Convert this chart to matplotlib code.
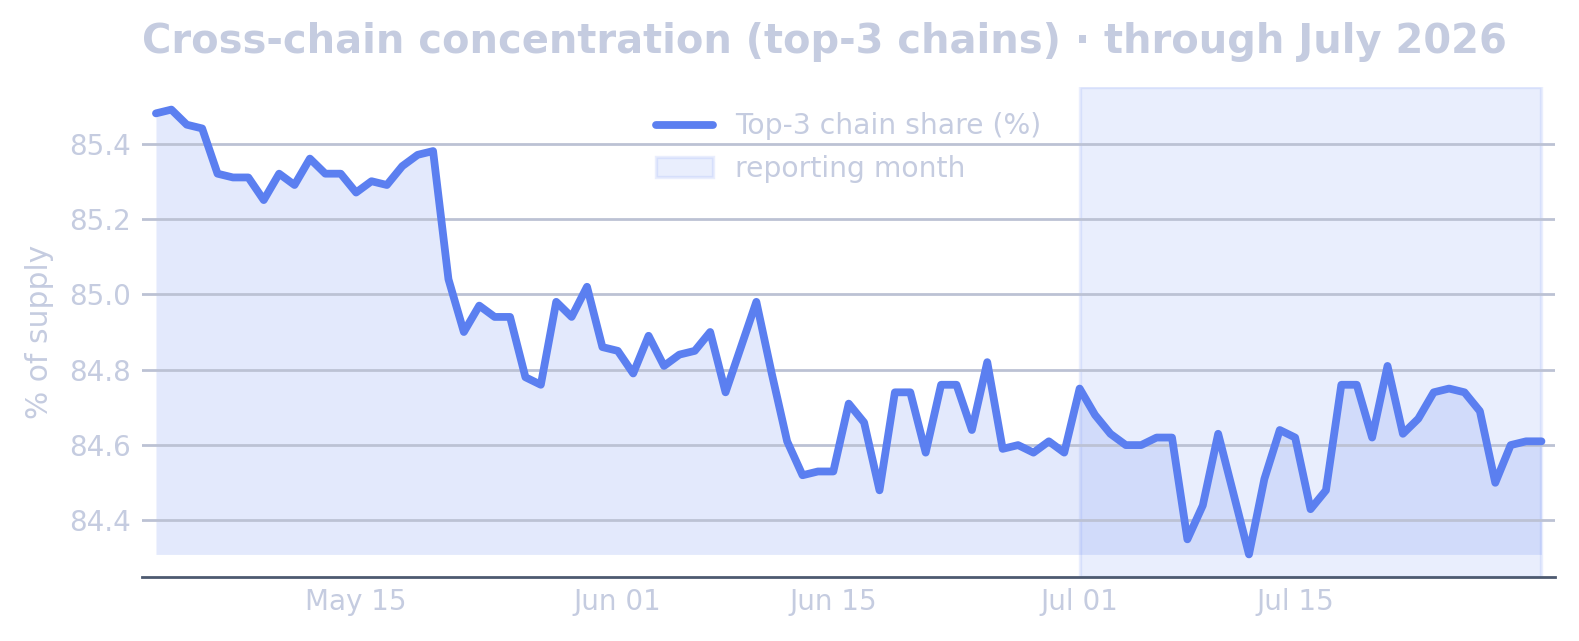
import numpy as np
import pandas as pd
import matplotlib
matplotlib.use("Agg")
import matplotlib.pyplot as plt
import matplotlib.dates as mdates
from matplotlib.lines import Line2D
from matplotlib.patches import Patch

# daily top-3 chain share, May 2 - Jul 31 2026
dates = pd.date_range("2026-05-02", "2026-07-31", freq="D")
share = [
    85.48, 85.49, 85.45, 85.44, 85.32, 85.31, 85.31, 85.25, 85.32, 85.29,
    85.36, 85.32, 85.32, 85.27, 85.30, 85.29, 85.34, 85.37, 85.38, 85.04,
    84.90, 84.97, 84.94, 84.94, 84.78, 84.76, 84.98, 84.94, 85.02, 84.86,
    84.85, 84.79, 84.89, 84.81, 84.84, 84.85, 84.90, 84.74, 84.86, 84.98,
    84.79, 84.61, 84.52, 84.53, 84.53, 84.71, 84.66, 84.48, 84.74, 84.74,
    84.58, 84.76, 84.76, 84.64, 84.82, 84.59, 84.60, 84.58, 84.61, 84.58,
    84.75, 84.68, 84.63, 84.60, 84.60, 84.62, 84.62, 84.35, 84.44, 84.63,
    84.47, 84.31, 84.51, 84.64, 84.62, 84.43, 84.48, 84.76, 84.76, 84.62,
    84.81, 84.63, 84.67, 84.74, 84.75, 84.74, 84.69, 84.50, 84.60, 84.61,
    84.61,
]
month_start = pd.Timestamp("2026-07-01")
month_end = pd.Timestamp("2026-07-31")
tick_dates = pd.to_datetime(["2026-05-15", "2026-06-01", "2026-06-15", "2026-07-01", "2026-07-15"])
yticks = [84.4, 84.6, 84.8, 85.0, 85.2, 85.4]

line_col = "#5b7ff0"
text_col = "#c5cce0"

fig = plt.figure(figsize=(1579 / 200, 641 / 200), dpi=200)
ax = fig.add_axes([0.09, 0.0998, 0.895, 0.7645])

ax.axvspan(month_start, month_end, color=line_col, alpha=0.13, lw=1.2, zorder=1)
ax.fill_between(dates, share, min(share), color=line_col, alpha=0.17, lw=0, zorder=2)
ax.plot(dates, share, color=line_col, lw=2.8, solid_capstyle="round", solid_joinstyle="round", zorder=3)

ax.set_ylim(84.25, 85.55)
ax.margins(x=0.01)
ax.set_yticks(yticks)
ax.set_yticklabels([f"{v:.1f}" for v in yticks])
ax.set_xticks(tick_dates)
ax.xaxis.set_major_formatter(mdates.DateFormatter("%b %d"))
ax.set_axisbelow(False)
ax.yaxis.grid(True, color="#bcc2d4", lw=1.0)
ax.tick_params(length=0, labelsize=10, colors=text_col)
ax.tick_params(axis="y", pad=4)
ax.tick_params(axis="x", pad=4)
for s in ["left", "right", "top"]:
    ax.spines[s].set_visible(False)
ax.spines["bottom"].set_color("#4d5a70")
ax.spines["bottom"].set_linewidth(1.0)

ax.set_ylabel("% of supply", color=text_col, fontsize=10.7, labelpad=5.5)
ax.set_title("Cross-chain concentration (top-3 chains) · through July 2026",
             loc="left", fontsize=14.4, fontweight="bold", color=text_col, pad=12.2)

handles = [
    Line2D([0], [0], color=line_col, lw=2.8, solid_capstyle="round"),
    Patch(facecolor=line_col, alpha=0.13, edgecolor=line_col, lw=1.2),
]
leg = ax.legend(handles, ["Top-3 chain share (%)", "reporting month"], loc="upper center",
                frameon=False, fontsize=10.2, labelcolor=text_col, bbox_to_anchor=(0.5, 1.0))

fig.savefig("out.png", dpi=200)
